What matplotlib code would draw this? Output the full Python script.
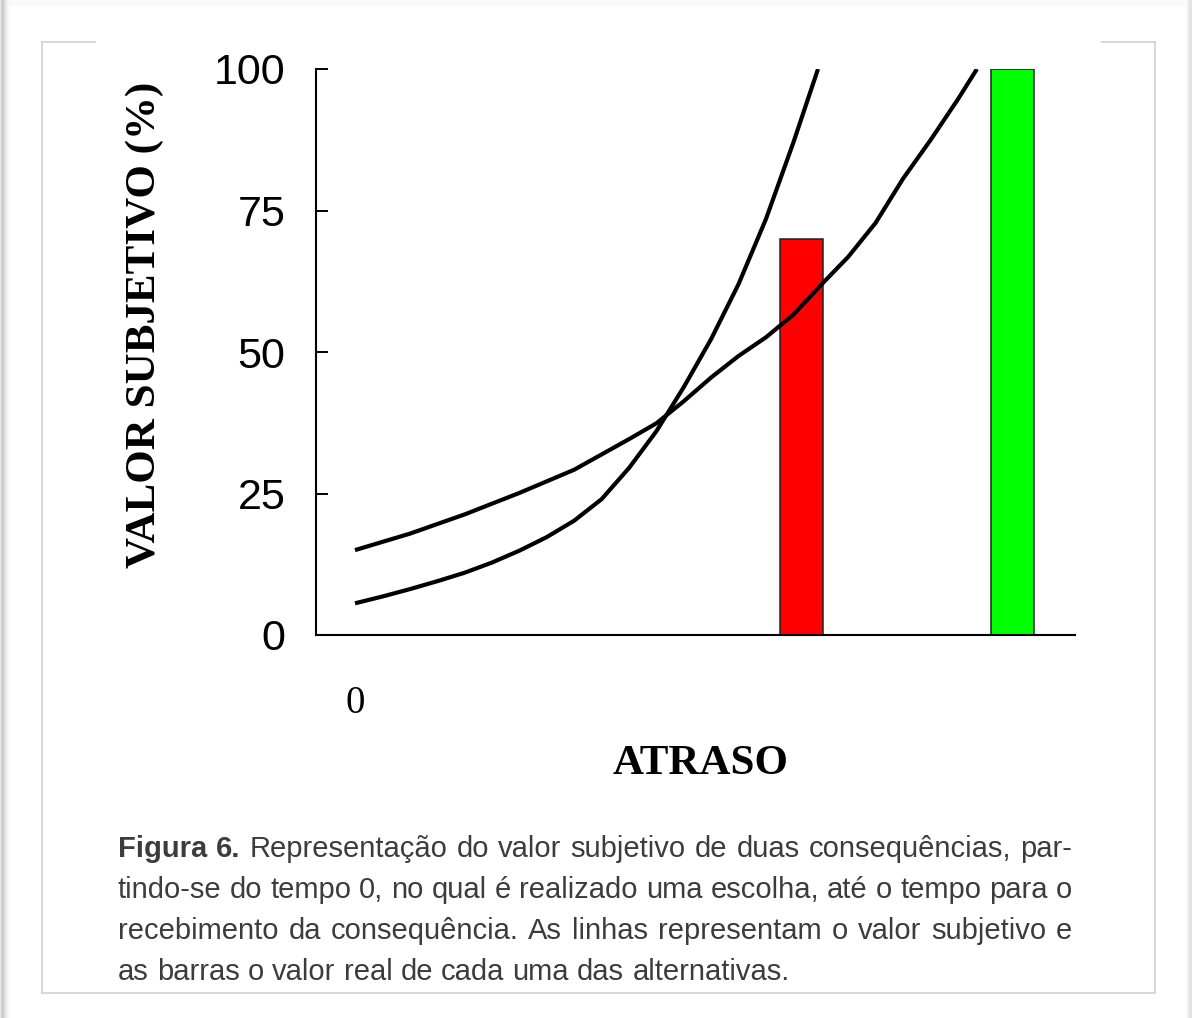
import matplotlib
matplotlib.use('Agg')
import matplotlib.pyplot as plt
from matplotlib.patches import Rectangle
from matplotlib.lines import Line2D

# ---------------- data ----------------
delay_a = [0, 0.5, 1.0, 1.5, 2.0, 2.5, 3.0, 3.5, 4.0, 4.5, 5.0, 5.5, 6.0, 6.5, 7.0, 7.5, 8.0, 8.45]
value_a = [5.6, 6.8, 8.1, 9.5, 11.0, 12.8, 14.9, 17.3, 20.2, 24.0, 29.5, 36.0, 43.8, 52.3, 62.0, 73.5, 87.0, 100]
delay_b = [0, 1.0, 2.0, 3.0, 4.0, 5.0, 5.5, 6.0, 6.5, 7.0, 7.5, 8.0, 8.5, 9.0, 9.5, 10.0, 10.5, 11.0, 11.35]
value_b = [15.0, 17.9, 21.3, 25.1, 29.2, 34.6, 37.4, 41.3, 45.5, 49.3, 52.6, 56.6, 61.8, 66.8, 72.8, 80.6, 87.4, 94.6, 100]
bar_pos = [8.15, 12.0]
bar_vals = [70, 100]
bar_colors = ['#ff0000', '#00ff00']
yticks = [0, 25, 50, 75, 100]
ytick_labels = ['0', '25', '50', '75', '100']
xticks = [0]
xtick_labels = ['0']
ylabel = 'VALOR SUBJETIVO (%)'
xlabel = 'ATRASO'
caption_lines = [
    [("Figura", True), ("6.", True), ("Representação", False), ("do", False), ("valor", False),
     ("subjetivo", False), ("de", False), ("duas", False), ("consequências,", False), ("par-", False)],
    "tindo-se do tempo 0, no qual é realizado uma escolha, até o tempo para o",
    "recebimento da consequência. As linhas representam o valor subjetivo e",
    "as barras o valor real de cada uma das alternativas.",
]

W, H = 1192, 1018
fig = plt.figure(figsize=(W / 100, H / 100), dpi=100)
fig.patch.set_facecolor('white')

# background / frame layer in pixel coords
bg = fig.add_axes([0, 0, 1, 1], zorder=-5)
bg.set_xlim(0, W)
bg.set_ylim(H, 0)
bg.axis('off')
# shadows
for i, a in enumerate([0.10, 0.16, 0.20, 0.18, 0.14, 0.10, 0.07, 0.05, 0.03, 0.02]):
    bg.add_patch(Rectangle((i, 0), 1, H, color='black', alpha=a, lw=0))
for i, a in enumerate([0.02, 0.04, 0.07, 0.10, 0.12, 0.10]):
    bg.add_patch(Rectangle((1186 + i, 0), 1, H, color='black', alpha=a, lw=0))
for i, a in enumerate([0.01, 0.02, 0.02, 0.03, 0.02, 0.015, 0.01]):
    bg.add_patch(Rectangle((10, i), 1176, 1, color='black', alpha=a, lw=0))
fc = '#d4d4d4'
bg.add_line(Line2D([42, 42], [42, 993], color=fc, lw=1.3))
bg.add_line(Line2D([1155, 1155], [42, 993], color=fc, lw=1.3))
bg.add_line(Line2D([42, 1155], [993, 993], color=fc, lw=1.3))
bg.add_line(Line2D([42, 95], [42, 42], color=fc, lw=1.3))
bg.add_line(Line2D([1102, 1155], [42, 42], color=fc, lw=1.3))

# main axes
ax = fig.add_axes([316 / W, 1 - 635 / H, (1075 - 316) / W, (635 - 69) / H])
ax.set_facecolor('none')
ax.bar(bar_pos, bar_vals, width=0.785, color=bar_colors, edgecolor='#222222', linewidth=1.1, zorder=2)
ax.plot(delay_a, value_a, color='black', lw=3.0, zorder=3, solid_capstyle='butt', solid_joinstyle='round')
ax.plot(delay_b, value_b, color='black', lw=3.0, zorder=3, solid_capstyle='butt', solid_joinstyle='round')
ax.set_xlim(-0.712, 13.14)
ax.set_ylim(0, 100)
for s in ['top', 'right']:
    ax.spines[s].set_visible(False)
for s in ['left', 'bottom']:
    ax.spines[s].set_linewidth(1.5)
ax.set_yticks(yticks)
ax.set_yticklabels(ytick_labels, fontfamily='Liberation Sans', fontsize=31)
ax.tick_params(axis='y', direction='in', length=8.5, width=1.4, pad=22)
ax.set_xticks(xticks)
ax.set_xticklabels(xtick_labels, fontfamily='Liberation Serif', fontsize=28)
ax.tick_params(axis='x', length=0, pad=36)

fig.text(145 / W, 1 - 325 / H, ylabel, rotation=90, ha='center', va='center',
         fontfamily='Liberation Serif', fontweight='bold', fontsize=31)
fig.text(701 / W, 1 - 764 / H, xlabel, ha='center', va='center',
         fontfamily='Liberation Serif', fontweight='bold', fontsize=31)

# caption, justified
cap_color = '#3c3c3c'
cap_fs = 21
left, right = 118, 1072
baselines = [857, 898, 939, 980]
renderer = fig.canvas.get_renderer()
for li, line in enumerate(caption_lines):
    if isinstance(line, str):
        words = [(w, False) for w in line.split(' ')]
    else:
        words = line
    texts = []
    for w, b in words:
        t = bg.text(0, baselines[li], w, fontfamily='Liberation Sans', fontsize=cap_fs,
                    fontweight='bold' if b else 'normal', color=cap_color, va='baseline', ha='left')
        texts.append(t)
    widths = [t.get_window_extent(renderer).width for t in texts]
    if li < len(caption_lines) - 1:
        gap = (right - left - sum(widths)) / (len(words) - 1)
    else:
        sp = bg.text(0, 0, 'a a', fontfamily='Liberation Sans', fontsize=cap_fs)
        sp2 = bg.text(0, 0, 'aa', fontfamily='Liberation Sans', fontsize=cap_fs)
        gap = sp.get_window_extent(renderer).width - sp2.get_window_extent(renderer).width
        sp.remove(); sp2.remove()
    x = left
    for t, wd in zip(texts, widths):
        t.set_x(x)
        x += wd + gap

fig.savefig('out.png', dpi=100, facecolor='white')
